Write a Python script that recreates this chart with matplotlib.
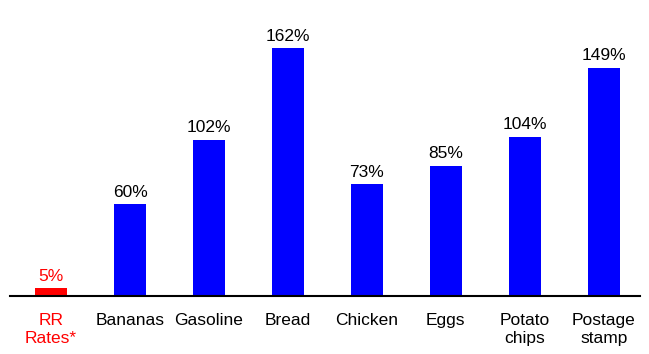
import matplotlib.pyplot as plt

categories = ['RR\nRates*', 'Bananas', 'Gasoline', 'Bread', 'Chicken', 'Eggs', 'Potato\nchips', 'Postage\nstamp']
values = [5, 60, 102, 162, 73, 85, 104, 149]
colors = ['#ff0000'] + ['#0000ff'] * 7

plt.rcParams['font.family'] = ['Liberation Sans', 'DejaVu Sans']

fig = plt.figure(figsize=(6.49, 3.54), dpi=100)
ax = fig.add_axes([10 / 649, 58 / 354, 630 / 649, 296 / 354])

x = range(len(values))
bars = ax.bar(x, values, width=0.41, color=colors)

for i, (b, v) in enumerate(zip(bars, values)):
    ax.text(b.get_x() + b.get_width() / 2, v + 3, f'{v}%', ha='center', va='bottom',
            fontsize=12.5, color='#ff0000' if i == 0 else 'black')

ax.set_xlim(-0.52, 7.46)
ax.set_ylim(0, 193.5)
ax.set_xticks(list(x))
ax.set_xticklabels(categories, fontsize=12.5, linespacing=1.25, va='top')
ax.get_xticklabels()[0].set_color('#ff0000')
ax.tick_params(axis='x', length=0, pad=12)
ax.set_yticks([])
for s in ['top', 'left', 'right']:
    ax.spines[s].set_visible(False)
ax.spines['bottom'].set_linewidth(1.5)

fig.savefig('out.png', dpi=100)
